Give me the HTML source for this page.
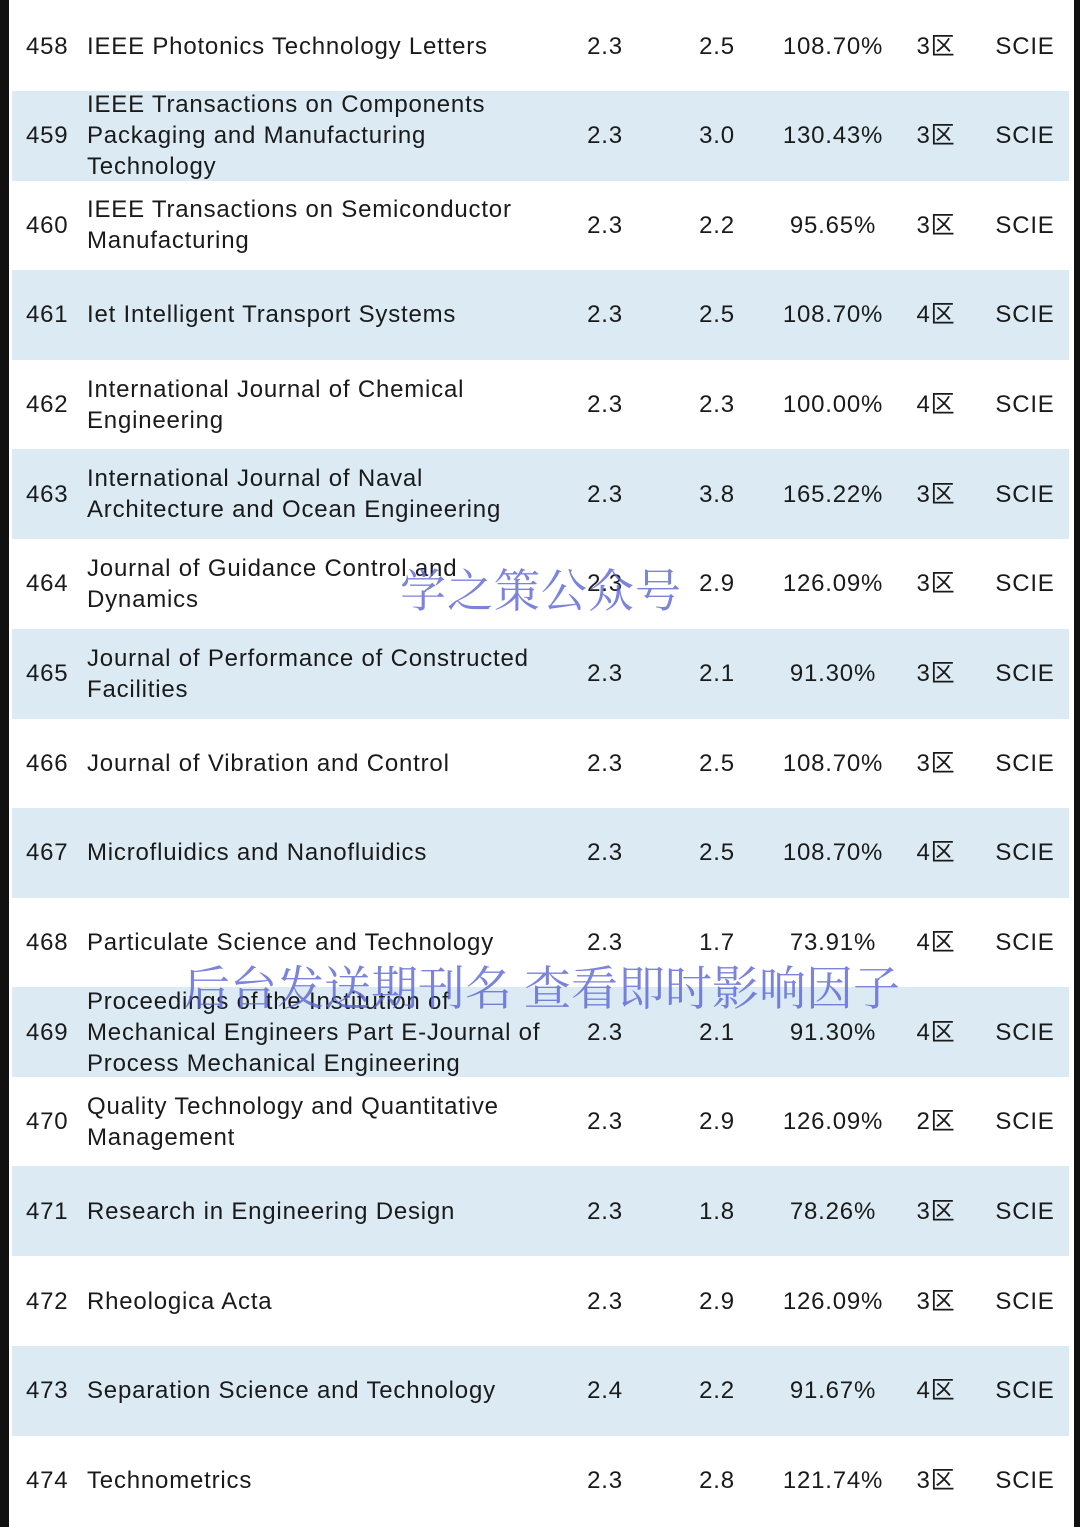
<!DOCTYPE html>
<html><head><meta charset="utf-8"><style>
html,body{margin:0;padding:0;}
body{width:1080px;height:1527px;position:relative;background:#fff;overflow:hidden;font-family:"Liberation Sans","Noto Sans CJK SC",sans-serif;color:#1a1a1a;}
.edge{position:absolute;top:0;height:1527px;background:#111;}
.row{position:absolute;left:12px;width:1057px;height:90px;}
.row.shade{background:#dcebf3;}
.c{position:absolute;top:0;height:90px;display:flex;align-items:center;font-size:24px;line-height:31px;white-space:nowrap;letter-spacing:0.8px;}
.num{left:14px;}
.title{left:75px;}
.v{justify-content:center;width:120px;}
.wm{position:absolute;font-family:"Noto Serif CJK SC",serif;color:rgba(90,100,210,0.8);white-space:nowrap;}
</style></head><body>
<div class="edge" style="left:0;width:9px"></div>
<div class="edge" style="left:1074px;width:6px"></div>
<div id="table"></div>
<div class="wm" style="left:400px;top:555px;font-size:46px;letter-spacing:1px">学之策公众号</div>
<div class="wm" style="left:183px;top:952px;font-size:47px">后台发送期刊名 查看即时影响因子</div>
<script>
const nums=[458,459,460,461,462,463,464,465,466,467,468,469,470,471,472,473,474];
const titles=["IEEE Photonics Technology Letters","IEEE Transactions on Components<br>Packaging and Manufacturing<br>Technology","IEEE Transactions on Semiconductor<br>Manufacturing","Iet Intelligent Transport Systems","International Journal of Chemical<br>Engineering","International Journal of Naval<br>Architecture and Ocean Engineering","Journal of Guidance Control and<br>Dynamics","Journal of Performance of Constructed<br>Facilities","Journal of Vibration and Control","Microfluidics and Nanofluidics","Particulate Science and Technology","Proceedings of the Institution of<br>Mechanical Engineers Part E-Journal of<br>Process Mechanical Engineering","Quality Technology and Quantitative<br>Management","Research in Engineering Design","Rheologica Acta","Separation Science and Technology","Technometrics"];
const if1=["2.3","2.3","2.3","2.3","2.3","2.3","2.3","2.3","2.3","2.3","2.3","2.3","2.3","2.3","2.3","2.4","2.3"];
const if2=["2.5","3.0","2.2","2.5","2.3","3.8","2.9","2.1","2.5","2.5","1.7","2.1","2.9","1.8","2.9","2.2","2.8"];
const pct=["108.70%","130.43%","95.65%","108.70%","100.00%","165.22%","126.09%","91.30%","108.70%","108.70%","73.91%","91.30%","126.09%","78.26%","126.09%","91.67%","121.74%"];
const zone=["3区","3区","3区","4区","4区","3区","3区","3区","3区","4区","4区","4区","2区","3区","3区","4区","3区"];
const db=["SCIE","SCIE","SCIE","SCIE","SCIE","SCIE","SCIE","SCIE","SCIE","SCIE","SCIE","SCIE","SCIE","SCIE","SCIE","SCIE","SCIE"];
const t=document.getElementById('table');
nums.forEach((n,i)=>{
  const r=document.createElement('div');
  r.className='row'+(i%2?' shade':'');
  r.style.top=(1+89.65*i)+'px';
  
  
  r.innerHTML=
   '<div class="c num">'+n+'</div>'+
   '<div class="c title"><span>'+titles[i]+'</span></div>'+
   '<div class="c v" style="left:533px">'+if1[i]+'</div>'+
   '<div class="c v" style="left:645px">'+if2[i]+'</div>'+
   '<div class="c v" style="left:761px">'+pct[i]+'</div>'+
   '<div class="c v" style="left:864px">'+zone[i]+'</div>'+
   '<div class="c v" style="left:953px">'+db[i]+'</div>';
  t.appendChild(r);
});
</script>
</body></html>
